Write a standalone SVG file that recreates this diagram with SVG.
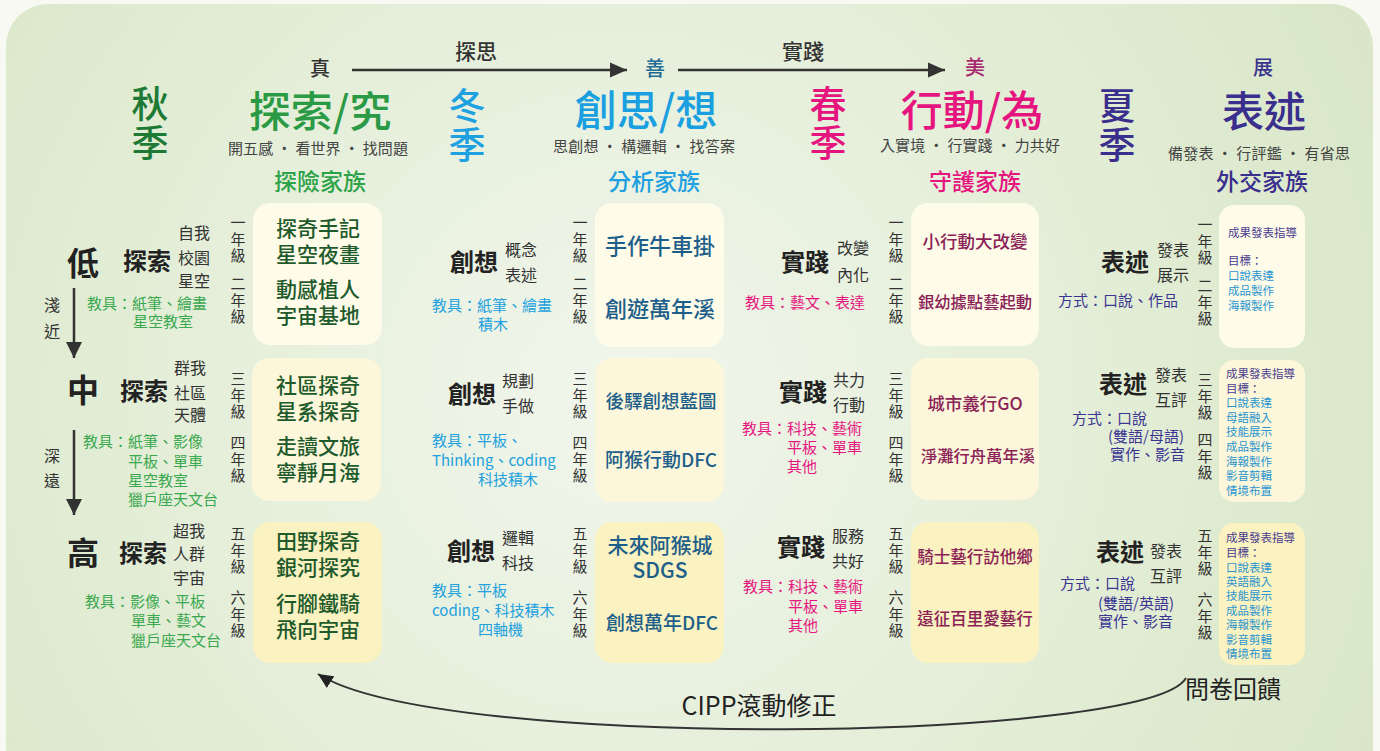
<svg xmlns="http://www.w3.org/2000/svg" width="1380" height="751" viewBox="0 0 1380 751">
<defs>
<radialGradient id="bg" cx="620" cy="400" r="820" gradientUnits="userSpaceOnUse">
<stop offset="0" stop-color="#f1f6ec"/>
<stop offset="0.55" stop-color="#e4eed8"/>
<stop offset="1" stop-color="#d9e7c8"/>
</radialGradient>
<marker id="ah" markerUnits="userSpaceOnUse" markerWidth="18" markerHeight="16" refX="17" refY="8" orient="auto">
<path d="M0,0.5 L17,8 L0,15.5 z" fill="#333"/>
</marker>
<marker id="ahv" markerUnits="userSpaceOnUse" markerWidth="17" markerHeight="17" refX="16" refY="8" orient="auto">
<path d="M0,0 L16,8 L0,16 z" fill="#333"/>
</marker>
<marker id="ahc" markerUnits="userSpaceOnUse" markerWidth="16" markerHeight="14" refX="15" refY="7" orient="auto">
<path d="M0,0 L15,7 L0,14 z" fill="#222"/>
</marker>
<style>
text{font-family:"Noto Sans CJK TC","Noto Sans CJK SC",sans-serif;}
.g{font-size:15px;fill:#333;text-anchor:middle;writing-mode:vertical-rl;letter-spacing:1.5px;}
.big{font-size:32px;font-weight:bold;fill:#222;text-anchor:middle;}
.verb{font-size:24px;font-weight:bold;fill:#222;text-anchor:middle;}
.sub{font-size:16px;fill:#333;}
.tg{font-size:15px;fill:#3aa84f;}
.tc{font-size:15px;fill:#22a1de;}
.tm{font-size:15px;fill:#e5177f;}
.ti{font-size:15px;fill:#3b3592;}
.season{font-size:37px;font-weight:500;text-anchor:middle;writing-mode:vertical-rl;letter-spacing:2px;}
.title{font-size:42px;font-weight:500;text-anchor:middle;}
.motto{font-size:15px;fill:#444;}
.fam{font-size:23px;font-weight:500;text-anchor:middle;}
.top{font-size:20px;font-weight:500;text-anchor:middle;}
.r1{fill:#fefce9;}
.r2{fill:#fcf7da;}
.r3{fill:#faf2c0;}
.bt1{font-size:21px;font-weight:500;fill:#1e5a2c;text-anchor:middle;}
.bt2{font-weight:500;fill:#1d5f8a;text-anchor:middle;}
.bt3{font-weight:500;fill:#8a2257;text-anchor:middle;}
.bh{font-size:11.5px;fill:#4a3d8f;}
.bi{font-size:11.5px;fill:#2a95d0;}
.conn{fill:none;stroke:#333;}
</style>
</defs>

<rect x="0" y="0" width="1380" height="751" fill="#f8f9f2"/>
<rect x="6" y="4" width="1367" height="790" rx="42" ry="42" fill="url(#bg)"/>

<!-- header -->
<g id="header">
<text class="top" x="476" y="59" style="fill:#333;font-size:21px">探思</text>
<text class="top" x="803" y="59" style="fill:#333;font-size:21px">實踐</text>
<text class="top" x="320" y="76" style="fill:#333">真</text>
<text class="top" x="655" y="76" style="fill:#236b93">善</text>
<text class="top" x="975" y="75" style="fill:#a8266e">美</text>
<text class="top" x="1263" y="75" style="fill:#3b3590">展</text>
</g>

<g id="autumn">
<text class="season" x="150" y="124" style="fill:#1d7a35">秋季</text>
<text class="title" x="320" y="127" style="fill:#2b9a45">探索/究</text>
<text class="motto" x="228" y="154" textLength="180">開五感 · 看世界 · 找問題</text>
<text class="fam" x="320" y="190" style="fill:#2ea34a">探險家族</text>
</g>
<g id="winter">
<text class="season" x="467" y="126" style="fill:#1ea1e1">冬季</text>
<text class="title" x="646" y="126" style="fill:#1a9fe0">創思/想</text>
<text class="motto" x="553" y="152" textLength="182">思創想 · 構邏輯 · 找答案</text>
<text class="fam" x="654" y="190" style="fill:#20a0e0">分析家族</text>
</g>
<g id="spring">
<text class="season" x="828" y="124" style="fill:#e5147e">春季</text>
<text class="title" x="972" y="126" style="fill:#e5147e">行動/為</text>
<text class="motto" x="880" y="151" textLength="180">入實境 · 行實踐 · 力共好</text>
<text class="fam" x="975" y="190" style="fill:#e5147e">守護家族</text>
</g>
<g id="summer">
<text class="season" x="1117" y="126" style="fill:#3b2f8e">夏季</text>
<text class="title" x="1264" y="127" style="fill:#3b2f8e">表述</text>
<text class="motto" x="1168" y="159" textLength="182">備發表 · 行評鑑 · 有省思</text>
<text class="fam" x="1262" y="190" style="fill:#3b2f8e">外交家族</text>
</g>

<!-- level labels -->
<g id="levels">
<text class="big" x="83" y="275">低</text>
<text class="big" x="83" y="402">中</text>
<text class="big" x="83" y="565">高</text>
<text class="sub" style="text-anchor:middle"><tspan x="52" y="311">淺</tspan><tspan x="52" y="337">近</tspan></text>
<text class="sub" style="text-anchor:middle"><tspan x="52" y="462">深</tspan><tspan x="52" y="487">遠</tspan></text>
</g>

<!-- grade labels -->
<g id="grades">
<text class="g" x="238" y="240">一年級</text>
<text class="g" x="238" y="301">二年級</text>
<text class="g" x="238" y="396">三年級</text>
<text class="g" x="238" y="460">四年級</text>
<text class="g" x="238" y="551">五年級</text>
<text class="g" x="238" y="615">六年級</text>

<text class="g" x="580" y="240">一年級</text>
<text class="g" x="580" y="301">二年級</text>
<text class="g" x="580" y="396">三年級</text>
<text class="g" x="580" y="460">四年級</text>
<text class="g" x="580" y="551">五年級</text>
<text class="g" x="580" y="615">六年級</text>

<text class="g" x="896" y="240">一年級</text>
<text class="g" x="896" y="301">二年級</text>
<text class="g" x="896" y="396">三年級</text>
<text class="g" x="896" y="460">四年級</text>
<text class="g" x="896" y="551">五年級</text>
<text class="g" x="896" y="615">六年級</text>

<text class="g" x="1205" y="242">一年級</text>
<text class="g" x="1205" y="303">二年級</text>
<text class="g" x="1205" y="397">三年級</text>
<text class="g" x="1205" y="457">四年級</text>
<text class="g" x="1205" y="553">五年級</text>
<text class="g" x="1205" y="617">六年級</text>
</g>

<!-- explore column labels -->
<g id="explore-low">
<text class="verb" x="147" y="270">探索</text>
<text class="sub"><tspan x="178" y="239">自我</tspan><tspan x="178" y="264">校園</tspan><tspan x="178" y="287">星空</tspan></text>
<text class="tg"><tspan x="87" y="309">教具：紙筆、繪畫</tspan><tspan x="133" y="327">星空教室</tspan></text>
</g>
<g id="explore-mid">
<text class="verb" x="144" y="400">探索</text>
<text class="sub"><tspan x="174" y="374">群我</tspan><tspan x="174" y="399">社區</tspan><tspan x="174" y="421">天體</tspan></text>
<text class="tg"><tspan x="83" y="447">教具：紙筆、影像</tspan><tspan x="128" y="467">平板、單車</tspan><tspan x="128" y="486">星空教室</tspan><tspan x="128" y="505">獵戶座天文台</tspan></text>
</g>
<g id="explore-high">
<text class="verb" x="143" y="562">探索</text>
<text class="sub"><tspan x="173" y="537">超我</tspan><tspan x="173" y="560">人群</tspan><tspan x="173" y="584">宇宙</tspan></text>
<text class="tg"><tspan x="85" y="607">教具：影像、平板</tspan><tspan x="131" y="626">單車、藝文</tspan><tspan x="131" y="646">獵戶座天文台</tspan></text>
</g>

<g id="explore-box1">
<rect class="r1" x="253" y="203" width="129" height="142" rx="17"/>
<text class="bt1"><tspan x="318" y="236">探奇手記</tspan><tspan x="318" y="262">星空夜畫</tspan><tspan x="318" y="297">動感植人</tspan><tspan x="318" y="323">宇宙基地</tspan></text>
</g>
<g id="explore-box2">
<rect class="r2" x="252" y="358" width="129" height="143" rx="17"/>
<text class="bt1"><tspan x="318" y="393">社區探奇</tspan><tspan x="318" y="419">星系探奇</tspan><tspan x="318" y="454">走讀文旅</tspan><tspan x="318" y="480">寧靜月海</tspan></text>
</g>
<g id="explore-box3">
<rect class="r3" x="253" y="522" width="129" height="141" rx="17"/>
<text class="bt1"><tspan x="318" y="549">田野探奇</tspan><tspan x="318" y="575">銀河探究</tspan><tspan x="318" y="611">行腳鐵騎</tspan><tspan x="318" y="637">飛向宇宙</tspan></text>
</g>

<!-- create column -->
<g id="create-low">
<text class="verb" x="474" y="271">創想</text>
<text class="sub"><tspan x="505" y="256">概念</tspan><tspan x="505" y="281">表述</tspan></text>
<text class="tc"><tspan x="432" y="311">教具：紙筆、繪畫</tspan><tspan x="478" y="330">積木</tspan></text>
</g>
<g id="create-mid">
<text class="verb" x="472" y="403">創想</text>
<text class="sub"><tspan x="502" y="387">規劃</tspan><tspan x="502" y="412">手做</tspan></text>
<text class="tc"><tspan x="432" y="446">教具：平板、</tspan><tspan x="432" y="466">Thinking、coding</tspan><tspan x="478" y="485">科技積木</tspan></text>
</g>
<g id="create-high">
<text class="verb" x="471" y="560">創想</text>
<text class="sub"><tspan x="502" y="544">邏輯</tspan><tspan x="502" y="569">科技</tspan></text>
<text class="tc"><tspan x="432" y="596">教具：平板</tspan><tspan x="432" y="616">coding、科技積木</tspan><tspan x="478" y="635">四軸機</tspan></text>
</g>

<g id="create-box1">
<rect class="r1" x="595" y="203" width="129" height="144" rx="17"/>
<text class="bt2" style="font-size:22px"><tspan x="660" y="254">手作牛車掛</tspan><tspan x="660" y="317">創遊萬年溪</tspan></text>
</g>
<g id="create-box2">
<rect class="r2" x="595" y="358" width="129" height="144" rx="17"/>
<text class="bt2" style="font-size:18.5px"><tspan x="661" y="408">後驛創想藍圖</tspan></text>
<text class="bt2" style="font-size:19px"><tspan x="661" y="467">阿猴行動DFC</tspan></text>
</g>
<g id="create-box3">
<rect class="r3" x="595" y="522" width="129" height="141" rx="17"/>
<text class="bt2" style="font-size:21px"><tspan x="660" y="553">未來阿猴城</tspan><tspan x="660" y="578">SDGS</tspan></text>
<text class="bt2" style="font-size:19px"><tspan x="662" y="630">創想萬年DFC</tspan></text>
</g>

<!-- action column -->
<g id="act-low">
<text class="verb" x="805" y="271">實踐</text>
<text class="sub"><tspan x="837" y="254">改變</tspan><tspan x="837" y="281">內化</tspan></text>
<text class="tm"><tspan x="745" y="308">教具：藝文、表達</tspan></text>
</g>
<g id="act-mid">
<text class="verb" x="803" y="401">實踐</text>
<text class="sub"><tspan x="833" y="386">共力</tspan><tspan x="833" y="411">行動</tspan></text>
<text class="tm"><tspan x="742" y="434">教具：科技、藝術</tspan><tspan x="787" y="453">平板、單車</tspan><tspan x="787" y="472">其他</tspan></text>
</g>
<g id="act-high">
<text class="verb" x="801" y="556">實踐</text>
<text class="sub"><tspan x="832" y="542">服務</tspan><tspan x="832" y="567">共好</tspan></text>
<text class="tm"><tspan x="743" y="592">教具：科技、藝術</tspan><tspan x="788" y="612">平板、單車</tspan><tspan x="788" y="631">其他</tspan></text>
</g>

<g id="act-box1">
<rect class="r1" x="911" y="203" width="128" height="143" rx="17"/>
<text class="bt3" style="font-size:17.5px"><tspan x="975" y="248">小行動大改變</tspan></text>
<text class="bt3" style="font-size:16.3px"><tspan x="975" y="308">銀幼據點藝起動</tspan></text>
</g>
<g id="act-box2">
<rect class="r2" x="911" y="358" width="128" height="142" rx="17"/>
<text class="bt3" style="font-size:17.5px"><tspan x="975" y="410">城市義行GO</tspan></text>
<text class="bt3" style="font-size:16.3px"><tspan x="978" y="462">淨灘行舟萬年溪</tspan></text>
</g>
<g id="act-box3">
<rect class="r3" x="911" y="522" width="128" height="141" rx="17"/>
<text class="bt3" style="font-size:16.5px"><tspan x="975" y="563">騎士藝行訪他鄉</tspan><tspan x="975" y="625">遠征百里愛藝行</tspan></text>
</g>

<!-- express column -->
<g id="exp-low">
<text class="verb" x="1125" y="271">表述</text>
<text class="sub"><tspan x="1157" y="256">發表</tspan><tspan x="1157" y="281">展示</tspan></text>
<text class="ti"><tspan x="1058" y="306">方式：口說、作品</tspan></text>
</g>
<g id="exp-mid">
<text class="verb" x="1123" y="393">表述</text>
<text class="sub"><tspan x="1155" y="381">發表</tspan><tspan x="1155" y="406">互評</tspan></text>
<text class="ti"><tspan x="1072" y="424">方式：口說</tspan><tspan x="1108" y="442">(雙語/母語)</tspan><tspan x="1110" y="460">實作、影音</tspan></text>
</g>
<g id="exp-high">
<text class="verb" x="1120" y="561">表述</text>
<text class="sub"><tspan x="1150" y="557">發表</tspan><tspan x="1150" y="582">互評</tspan></text>
<text class="ti"><tspan x="1060" y="589">方式：口說</tspan><tspan x="1098" y="609">(雙語/英語)</tspan><tspan x="1098" y="627">實作、影音</tspan></text>
</g>

<g id="exp-box1">
<rect class="r1" x="1219" y="205" width="86" height="143" rx="15"/>
<text class="bh"><tspan x="1228" y="237">成果發表指導</tspan><tspan x="1228" y="265">目標：</tspan></text>
<text class="bi"><tspan x="1228" y="280">口說表達</tspan><tspan x="1228" y="295">成品製作</tspan><tspan x="1228" y="310">海報製作</tspan></text>
</g>
<g id="exp-box2">
<rect class="r2" x="1219" y="360" width="86" height="142" rx="15"/>
<text class="bh"><tspan x="1226" y="378">成果發表指導</tspan><tspan x="1226" y="393">目標：</tspan></text>
<text class="bi"><tspan x="1226" y="407">口說表達</tspan><tspan x="1226" y="422">母語融入</tspan><tspan x="1226" y="436">技能展示</tspan><tspan x="1226" y="451">成品製作</tspan><tspan x="1226" y="466">海報製作</tspan><tspan x="1226" y="480">影音剪輯</tspan><tspan x="1226" y="495">情境布置</tspan></text>
</g>
<g id="exp-box3">
<rect class="r3" x="1219" y="523" width="86" height="142" rx="15"/>
<text class="bh"><tspan x="1226" y="542">成果發表指導</tspan><tspan x="1226" y="557">目標：</tspan></text>
<text class="bi"><tspan x="1226" y="572">口說表達</tspan><tspan x="1226" y="586">英語融入</tspan><tspan x="1226" y="600">技能展示</tspan><tspan x="1226" y="615">成品製作</tspan><tspan x="1226" y="629">海報製作</tspan><tspan x="1226" y="644">影音剪輯</tspan><tspan x="1226" y="658">情境布置</tspan></text>
</g>

<g id="feedback">
<text x="1233" y="698" style="font-size:24px;fill:#222;text-anchor:middle">問卷回饋</text>
<text x="759" y="715" style="font-size:25px;fill:#222;text-anchor:middle">CIPP滾動修正</text>
</g>

<!-- connectors -->
<g id="connectors">
<line class="conn" x1="352" y1="70" x2="627" y2="70" stroke-width="2.5" marker-end="url(#ah)"/>
<line class="conn" x1="678" y1="70" x2="945" y2="70" stroke-width="2.5" marker-end="url(#ah)"/>
<line class="conn" x1="74" y1="288" x2="74" y2="358" stroke-width="2.5" marker-end="url(#ahv)"/>
<line class="conn" x1="74" y1="430" x2="74" y2="515" stroke-width="2.5" marker-end="url(#ahv)"/>
<path class="conn" d="M1186 678 C1150 742, 440 752, 318 674" stroke-width="2" stroke="#222" marker-end="url(#ahc)"/>
</g>
</svg>
